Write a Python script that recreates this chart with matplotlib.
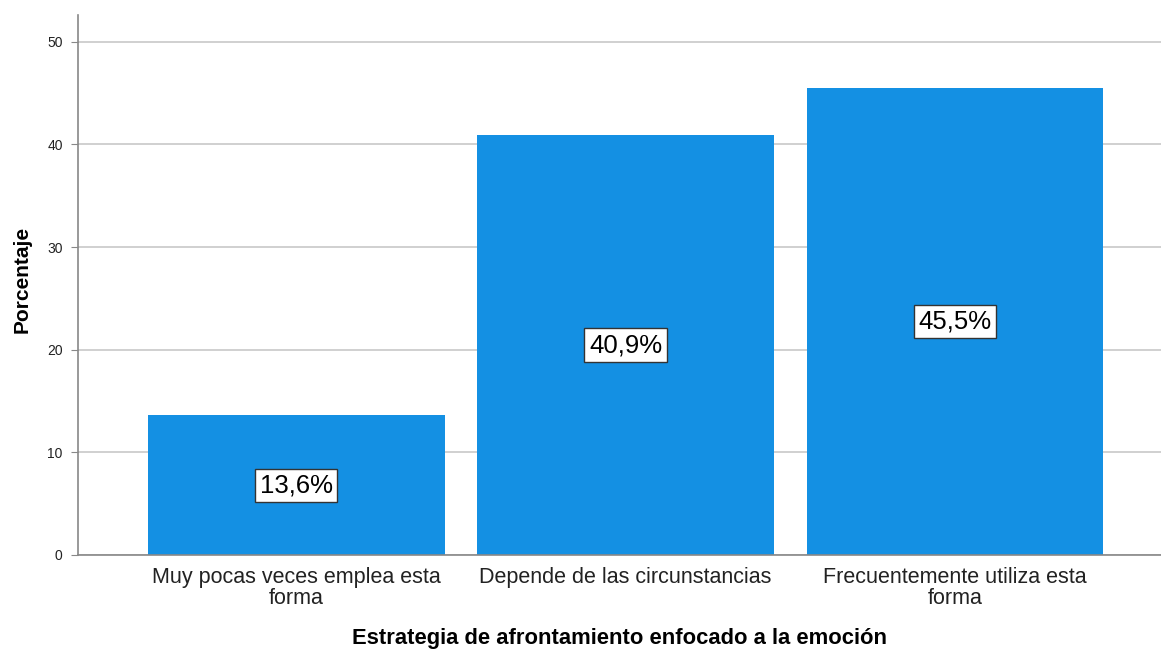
import matplotlib
matplotlib.use("Agg")
import matplotlib.pyplot as plt
import numpy as np

categorias = ["Muy pocas veces emplea esta\nforma",
              "Depende de las circunstancias",
              "Frecuentemente utiliza esta\nforma"]
porcentajes = [13.6, 40.9, 45.5]
yticks = [0, 10, 20, 30, 40, 50]

plt.rcParams['font.family'] = ['Liberation Sans', 'DejaVu Sans']

fig = plt.figure(figsize=(11.61, 6.55), dpi=100)
ax = fig.add_axes([0.0672, 0.1527, 0.9328, 0.8243])

x = np.arange(len(categorias))
ax.set_axisbelow(True)
ax.yaxis.grid(True, color="#c8c8c8", linewidth=1.2)
barras = ax.bar(x, porcentajes, width=0.9, color="#1490e3")

# etiquetas de porcentaje en el centro de cada barra
for xi, v in zip(x, porcentajes):
    ax.text(xi, v / 2, f"{v:.1f}%".replace(".", ","), ha="center", va="center",
            fontsize=18.5, color="black",
            bbox=dict(boxstyle="square,pad=0.18", facecolor="white",
                      edgecolor="#333333", linewidth=1))

ax.set_xlim(-0.663, 2.626)
ax.set_ylim(0, 52.6)
ax.set_yticks(yticks)
ax.set_xticks(x)
ax.set_xticklabels(categorias, fontsize=15.5, linespacing=0.95, color="#222222")
ax.tick_params(axis="y", labelsize=10, length=5, color="#888888", pad=6,
               labelcolor="#222222")
ax.tick_params(axis="x", length=0, pad=9)

for s in ["top", "right"]:
    ax.spines[s].set_visible(False)
for s in ["left", "bottom"]:
    ax.spines[s].set_color("#888888")
    ax.spines[s].set_linewidth(1.2)

ax.set_ylabel("Porcentaje", fontsize=15, fontweight="bold")
ax.yaxis.set_label_coords(-0.043, 0.51)
ax.set_xlabel("Estrategia de afrontamiento enfocado a la emoción", fontsize=15.8,
              fontweight="bold", labelpad=14)

fig.savefig("out.png", dpi=100, facecolor="white")
